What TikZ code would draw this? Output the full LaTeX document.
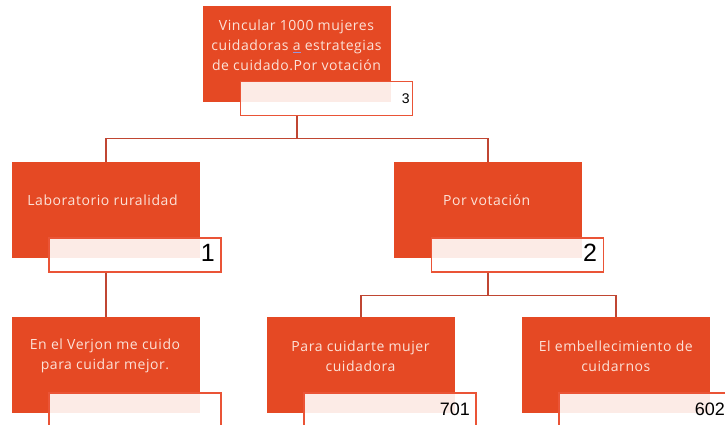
\documentclass[tikz,border=0pt]{standalone}
\usepackage{fontspec}
\setmainfont{Open Sans}[LetterSpace=4]
\newfontfamily\numfont{Liberation Sans}
\usetikzlibrary{calc}
\definecolor{boxor}{RGB}{229,73,36}
\definecolor{txtc}{RGB}{252,226,216}
\definecolor{ovline}{RGB}{234,84,54}
\definecolor{connc}{RGB}{192,70,50}
\definecolor{ulc}{RGB}{150,150,220}
\begin{document}
\begin{tikzpicture}[x=1pt,y=-1pt,
  orbox/.style={rectangle, fill=boxor, minimum width=188pt, minimum height=96pt, inner sep=0pt, anchor=north west},
  ovbox/.style={rectangle, draw=ovline, line width=1.8pt, fill=white, fill opacity=0.89, minimum width=172pt, minimum height=34pt, inner sep=0pt, anchor=north west},
  lbl/.style={text=txtc, font=\fontsize{14}{19.8}\selectfont, align=center, inner sep=0pt},
  numbig/.style={font=\numfont\fontsize{25}{25}\selectfont, anchor=base east, inner sep=0pt},
  nummid/.style={font=\numfont\fontsize{18}{18}\selectfont, anchor=base east, inner sep=0pt},
  numsmall/.style={font=\numfont\fontsize{14}{14}\selectfont, anchor=base east, inner sep=0pt},
  conn/.style={draw=connc, line width=1.5pt}]
\useasboundingbox (0,0) rectangle (725,424);
\clip (0,0) rectangle (725,424);
% boxes
\node[orbox] (b0) at (203,6) {};
\node[orbox] (b1) at (11.7,161.7) {};
\node[orbox] (b2) at (394,161.7) {};
\node[orbox] (b3) at (11.7,316.7) {};
\node[orbox] (b4) at (266.7,316.7) {};
\node[orbox] (b5) at (521.7,316.7) {};
% overlays
\node[ovbox] (o0) at ($(b0.north west)+(36.5,74.5)$) {};
\node[ovbox] (o1) at ($(b1.north west)+(36.5,75)$) {};
\node[ovbox] (o2) at ($(b2.north west)+(36.5,75)$) {};
\node[ovbox] (o3) at ($(b3.north west)+(36.5,75)$) {};
\node[ovbox] (o4) at ($(b4.north west)+(36.5,75)$) {};
\node[ovbox] (o5) at ($(b5.north west)+(36.5,75)$) {};
% connectors
\draw[conn] (b0.south |- o0.south) -- ++(0,22) coordinate (j0);
\draw[conn] (b1.north) |- (j0) -| (b2.north);
\draw[conn] (b1.south |- o1.south) -- (b3.north);
\draw[conn] (b2.south |- o2.south) -- ++(0,23) coordinate (j2);
\draw[conn] (b4.north) |- (j2) -| (b5.north);
% labels
\node[lbl] (t0) at (296.5,45) {Vincular 1000 mujeres\\cuidadoras\ {\color{ulc}\underline{{\color{txtc}a}}}\ estrategias\\de cuidado.Por votación};
\node[lbl] (t1) at (102.5,200) {Laboratorio ruralidad};
\node[lbl] (t2) at (486.7,200) {Por votación};
\node[lbl] (t3) at (105,356) {En el Verjon me cuido\\para cuidar mejor.};
\node[lbl] (t4) at (360.5,356) {Para cuidarte mujer\\cuidadora};
\node[lbl] (t5) at (615.8,356) {El embellecimiento de\\cuidarnos};
% numbers
\node[numsmall] (n0) at ($(o0.south east)+(-3.4,-13.3)$) {3};
\node[numbig] (n1) at ($(o1.south east)+(-7,-10.7)$) {1};
\node[numbig] (n2) at ($(o2.south east)+(-7,-10.7)$) {2};
\node[nummid] (n4) at ($(o4.south east)+(-7,-11.7)$) {701};
\node[nummid] (n5) at ($(o5.south east)+(-7,-11.7)$) {602};
\end{tikzpicture}
\end{document}
